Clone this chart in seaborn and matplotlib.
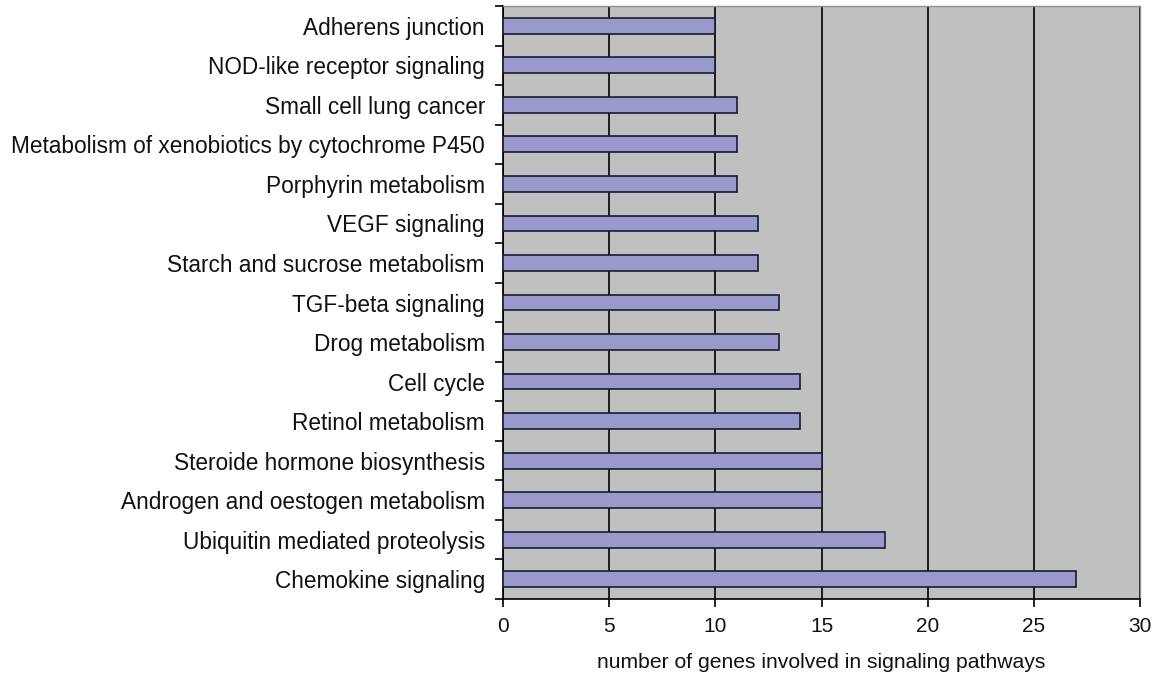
import matplotlib
matplotlib.use("Agg")
import matplotlib.pyplot as plt
import seaborn as sns
import pandas as pd
from matplotlib.ticker import MultipleLocator, FixedLocator

pathways = [
    "Adherens junction",
    "NOD-like receptor signaling",
    "Small cell lung cancer",
    "Metabolism of xenobiotics by cytochrome P450",
    "Porphyrin metabolism",
    "VEGF signaling",
    "Starch and sucrose metabolism",
    "TGF-beta signaling",
    "Drog metabolism",
    "Cell cycle",
    "Retinol metabolism",
    "Steroide hormone biosynthesis",
    "Androgen and oestogen metabolism",
    "Ubiquitin mediated proteolysis",
    "Chemokine signaling",
]
gene_counts = [10, 10, 11, 11, 11, 12, 12, 13, 13, 14, 14, 15, 15, 18, 27]

df = pd.DataFrame({"pathway": pathways, "genes": gene_counts})

sns.set_theme(style="white")
plt.rcParams["font.family"] = ["Liberation Sans", "DejaVu Sans"]

fig = plt.figure(figsize=(11.54, 6.76), dpi=100)
ax = fig.add_axes([0.4359, 0.1139, 0.552, 0.8772])
ax.set_facecolor("#c0c0c0")

sns.barplot(data=df, x="genes", y="pathway", orient="h", ax=ax,
            color="#9999cc", saturation=1, width=0.4,
            edgecolor="#1a1a33", linewidth=1.2, zorder=3)

ax.set_xlim(0, 30)
ax.set_ylim(len(pathways) - 0.5, -0.5)
ax.xaxis.set_major_locator(MultipleLocator(5))
ax.grid(axis="x", color="black", linewidth=1.2, zorder=1)
ax.set_axisbelow(True)

# ticks on category boundaries, labels centred on each bar
ax.yaxis.set_major_locator(FixedLocator([i - 0.5 for i in range(len(pathways) + 1)]))
ax.set_yticklabels([])
ax.yaxis.set_minor_locator(FixedLocator(range(len(pathways))))
ax.set_yticklabels(pathways, minor=True)
ax.tick_params(axis="y", which="major", direction="out", length=6, width=1.2, color="black", left=True)
ax.tick_params(axis="y", which="minor", length=0, pad=13, labelsize=16.3, labelcolor="#111111")
ax.tick_params(axis="x", direction="out", length=6, width=1.2, color="black",
               bottom=True, labelsize=15, pad=7, labelcolor="#111111")

for side in ("left", "bottom"):
    ax.spines[side].set_color("black")
    ax.spines[side].set_linewidth(1.2)
for side in ("top", "right"):
    ax.spines[side].set_color("#909090")
    ax.spines[side].set_linewidth(1.0)

ax.set_ylabel("")
ax.set_xlabel("number of genes involved in signaling pathways", fontsize=15.2,
              labelpad=12, color="#111111")

fig.savefig("out.png", dpi=100, facecolor="white")
